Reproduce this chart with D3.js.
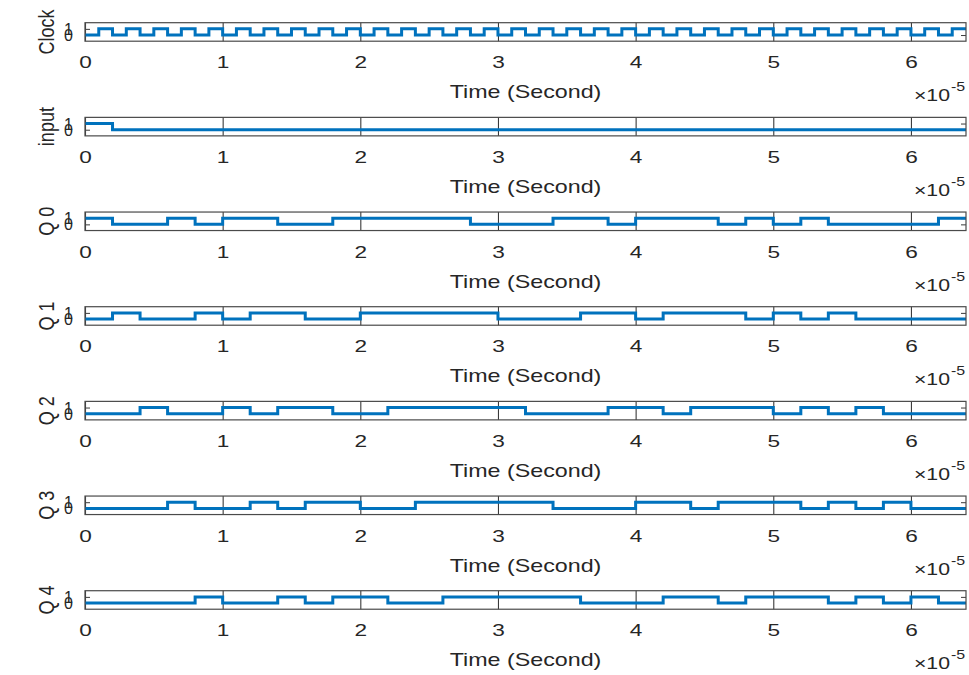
<!DOCTYPE html>
<html><head><meta charset="utf-8">
<script src="https://cdn.jsdelivr.net/npm/d3@7"></script>
<style>body{margin:0;background:#fff} text{font-family:"Liberation Sans",Arial,Helvetica,sans-serif;fill:#262626}</style>
</head><body><svg id="c" width="969" height="675"></svg>
<script>
// ---- data (time in units of 1e-5 s) ----
const panelNames = ["Clock", "input", "Q 0", "Q 1", "Q 2", "Q 3", "Q 4"];
const xTicks = [0, 1, 2, 3, 4, 5, 6];
const xTickLabels = ["0", "1", "2", "3", "4", "5", "6"];
const yTicks = [0, 1];
const yTickLabels = ["0", "1"];
const xLabel = "Time (Second)";
const xExponent = "-5";
const tMax = 6.4;
const clockStep = 0.1;   // half clock period
const bitStep = 0.2;     // one clock period
const clock = [0,1,0,1,0,1,0,1,0,1,0,1,0,1,0,1,0,1,0,1,0,1,0,1,0,1,0,1,0,1,0,1,
               0,1,0,1,0,1,0,1,0,1,0,1,0,1,0,1,0,1,0,1,0,1,0,1,0,1,0,1,0,1,0,1];
const input = [1,0,0,0,0,0,0,0,0,0,0,0,0,0,0,0,0,0,0,0,0,0,0,0,0,0,0,0,0,0,0,0];
const q0 = [1,0,0,1,0,1,1,0,0,1,1,1,1,1,0,0,0,1,1,0,1,1,1,0,1,0,1,0,0,0,0,1];
const q1 = [0,1,0,0,1,0,1,1,0,0,1,1,1,1,1,0,0,0,1,1,0,1,1,1,0,1,0,1,0,0,0,0];
const q2 = [0,0,1,0,0,1,0,1,1,0,0,1,1,1,1,1,0,0,0,1,1,0,1,1,1,0,1,0,1,0,0,0];
const q3 = [0,0,0,1,0,0,1,0,1,1,0,0,1,1,1,1,1,0,0,0,1,1,0,1,1,1,0,1,0,1,0,0];
const q4 = [0,0,0,0,1,0,0,1,0,1,1,0,0,1,1,1,1,1,0,0,0,1,1,0,1,1,1,0,1,0,1,0];

const seriesList = [
  {vals: clock, step: clockStep},
  {vals: input, step: bitStep},
  {vals: q0, step: bitStep},
  {vals: q1, step: bitStep},
  {vals: q2, step: bitStep},
  {vals: q3, step: bitStep},
  {vals: q4, step: bitStep}
];

// ---- layout ----
const svg = d3.select("#c");
const X0 = 85, X1 = 966, TOP0 = 22.7, PITCH = 94.67, H = 18.5;
const SX = 1.33; // horizontal text stretch
const x = d3.scaleLinear().domain([0, tMax]).range([X0, X1]);

seriesList.forEach((s, i) => {
  const top = TOP0 + PITCH * i, bot = top + H;
  const y = d3.scaleLinear().domain([-1, 2]).range([bot, top]);
  const g = svg.append("g");

  // x axis with grid lines
  const ax = g.append("g").attr("transform", `translate(0,${bot})`)
    .call(d3.axisBottom(x).tickValues(xTicks).tickFormat((d, k) => xTickLabels[k])
      .tickSizeInner(-H).tickSizeOuter(0));
  ax.select(".domain").remove();
  ax.selectAll(".tick line").attr("stroke", "#3a3a3a").attr("stroke-width", 1.1);
  ax.selectAll(".tick text").attr("y", 27).attr("dy", "0").attr("font-size", 17)
    .attr("transform", `scale(${SX},1)`).style("font-family", '"Liberation Sans",Arial,sans-serif').attr("fill", "#2b2b2b");

  // y axes (ticks inside, mirrored)
  const ayl = g.append("g").attr("transform", `translate(${X0},0)`)
    .call(d3.axisLeft(y).tickValues(yTicks).tickFormat((d, k) => yTickLabels[k])
      .tickSizeInner(-5).tickSizeOuter(0).tickPadding(12));
  ayl.select(".domain").remove();
  ayl.selectAll(".tick line").attr("stroke", "#3a3a3a");
  ayl.selectAll(".tick text").attr("font-size", 16).attr("dy", "0.35em")
    .style("font-family", '"Liberation Sans",Arial,sans-serif').attr("fill", "#2b2b2b");
  const ayr = g.append("g").attr("transform", `translate(${X1},0)`)
    .call(d3.axisRight(y).tickValues(yTicks).tickFormat("").tickSizeInner(-5).tickSizeOuter(0));
  ayr.select(".domain").remove();
  ayr.selectAll(".tick line").attr("stroke", "#3a3a3a");

  // signal
  const pts = s.vals.map((v, k) => ({t: k * s.step, v}));
  pts.push({t: tMax, v: s.vals[s.vals.length - 1]});
  g.append("path").datum(pts)
    .attr("d", d3.line().x(d => x(d.t)).y(d => y(d.v)).curve(d3.curveStepAfter))
    .attr("fill", "none").attr("stroke", "#0072BD").attr("stroke-width", 3);

  // box
  g.append("rect").attr("x", X0).attr("y", top).attr("width", X1 - X0).attr("height", H)
    .attr("fill", "none").attr("stroke", "#4a4a4a").attr("stroke-width", 1.2);

  // labels
  g.append("text").attr("transform", `translate(${(X0 + X1) / 2},${bot + 57}) scale(${SX},1)`)
    .attr("text-anchor", "middle").attr("font-size", 17.5).attr("fill", "#2b2b2b").text(xLabel);
  g.append("text").attr("transform", `translate(950,${bot + 60}) scale(${SX},1)`)
    .attr("text-anchor", "end").attr("font-size", 16).attr("fill", "#2b2b2b").text("\u00d710");
  g.append("text").attr("transform", `translate(951,${bot + 50}) scale(${SX},1)`)
    .attr("text-anchor", "start").attr("font-size", 12).attr("fill", "#2b2b2b").text(xExponent);
  g.append("text").attr("transform", `translate(54,${(top + bot) / 2}) rotate(-90) scale(1,1.2)`)
    .attr("text-anchor", "middle").attr("font-size", 18).attr("fill", "#2b2b2b").text(panelNames[i]);
});
</script></body></html>
